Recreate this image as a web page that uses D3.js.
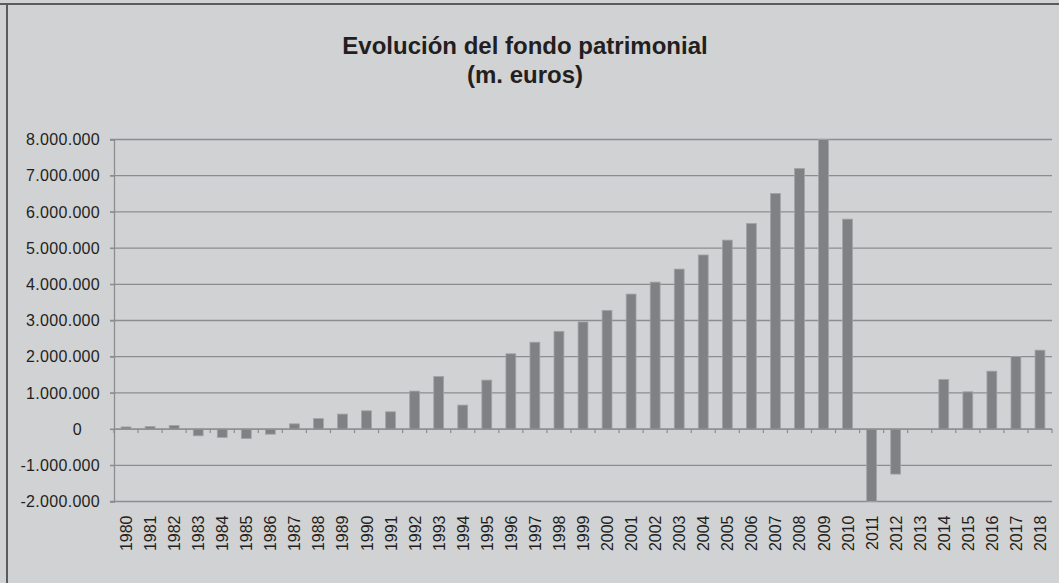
<!DOCTYPE html>
<html>
<head>
<meta charset="utf-8">
<script src="https://cdn.jsdelivr.net/npm/d3@7/dist/d3.min.js"></script>
<style>
  html, body { margin: 0; padding: 0; background: #d1d2d4; }
  svg { display: block; font-family: "Liberation Sans", Arial, sans-serif; }
</style>
</head>
<body>
<svg id="chart" width="1059" height="583"></svg>
<script>
// data (m. euros)
const years = d3.range(1980, 2019).map(String);
const values = [
  60000, 70000, 100000, -185000, -230000, -260000, -140000, 145000, 290000, 415000,
  505000, 478000, 1050000, 1453000, 663000, 1353000, 2080000, 2400000, 2700000, 2960000,
  3280000, 3730000, 4060000, 4420000, 4810000, 5220000, 5680000, 6510000, 7200000, 8000000,
  5800000, -2000000, -1243000, 0, 1370000, 1030000, 1600000, 2005000, 2180000
];
const yTicks = [-2000000, -1000000, 0, 1000000, 2000000, 3000000, 4000000, 5000000, 6000000, 7000000, 8000000];
const titleLines = ['Evolución del fondo patrimonial', '(m. euros)'];

const width = 1059;
const height = 583;
const plot = { left: 114, right: 1052, top: 139.5, bottom: 501.5 };

const svg = d3.select('#chart');

const esLocale = d3.formatLocale({ decimal: ',', thousands: '.', grouping: [3], currency: ['', ' €'], minus: '-' });
const fmt = esLocale.format(',d');

// frame
svg.append('line')
  .attr('x1', 0).attr('x2', width).attr('y1', 4).attr('y2', 4)
  .attr('stroke', '#5a5b5d').attr('stroke-width', 2);
svg.append('line')
  .attr('x1', 7).attr('x2', 7).attr('y1', 4).attr('y2', height)
  .attr('stroke', '#5a5b5d').attr('stroke-width', 2);

// title
svg.append('g').selectAll('text')
  .data(titleLines)
  .join('text')
  .attr('x', 525)
  .attr('y', (d, i) => 53.5 + i * 29.5)
  .attr('text-anchor', 'middle')
  .attr('font-size', 24)
  .attr('font-weight', 'bold')
  .attr('fill', '#231f20')
  .text(d => d);

// scales
const xScale = d3.scaleBand()
  .domain(years)
  .range([plot.left, plot.right]);

const yScale = d3.scaleLinear()
  .domain([-2000000, 8000000])
  .range([plot.bottom, plot.top]);

// gridlines
svg.append('g')
  .selectAll('line')
  .data(yTicks)
  .join('line')
  .attr('x1', plot.left - 4)
  .attr('x2', plot.right)
  .attr('y1', d => yScale(d))
  .attr('y2', d => yScale(d))
  .attr('stroke', '#8c8d8f')
  .attr('stroke-width', 1.3);

// y axis
const yAxis = svg.append('g')
  .attr('transform', `translate(${plot.left}, 0)`)
  .call(d3.axisLeft(yScale).tickValues(yTicks).tickSize(4).tickPadding(10).tickFormat(fmt));
yAxis.select('.domain').attr('stroke', '#8c8d8f').attr('stroke-width', 1.3);
yAxis.selectAll('.tick line').attr('stroke', '#8c8d8f');
yAxis.selectAll('.tick text')
  .attr('font-size', 16)
  .attr('letter-spacing', 0.3)
  .attr('fill', '#231f20')
  .attr('dx', d => d === 0 ? -18 : 0);

// bars
const barW = xScale.bandwidth() * 0.41;
svg.append('g')
  .selectAll('rect')
  .data(values)
  .join('rect')
  .attr('x', (d, i) => xScale(years[i]) + (xScale.bandwidth() - barW) / 2)
  .attr('y', d => yScale(Math.max(0, d)))
  .attr('width', barW)
  .attr('height', d => Math.abs(yScale(d) - yScale(0)))
  .attr('fill', '#808184')
  .attr('stroke', '#a2a3a5')
  .attr('stroke-width', 0.8);

// x axis at zero, ticks on category boundaries
const xAxisG = svg.append('g')
  .attr('transform', `translate(0, ${yScale(0)})`);
xAxisG.append('line')
  .attr('x1', plot.left).attr('x2', plot.right)
  .attr('stroke', '#8c8d8f').attr('stroke-width', 1.3);
xAxisG.selectAll('.bound')
  .data(years.concat(['end']))
  .join('line')
  .attr('class', 'bound')
  .attr('x1', (d, i) => i < years.length ? xScale(d) : plot.right)
  .attr('x2', (d, i) => i < years.length ? xScale(d) : plot.right)
  .attr('y1', 0).attr('y2', 4)
  .attr('stroke', '#8c8d8f').attr('stroke-width', 1.2);

// year labels below plot
svg.append('g')
  .selectAll('text')
  .data(years)
  .join('text')
  .attr('transform', d => `translate(${xScale(d) + xScale.bandwidth() / 2 + 6}, ${plot.bottom + 14}) rotate(-90)`)
  .attr('text-anchor', 'end')
  .attr('font-size', 16)
  .attr('fill', '#231f20')
  .text(d => d);
</script>
</body>
</html>
